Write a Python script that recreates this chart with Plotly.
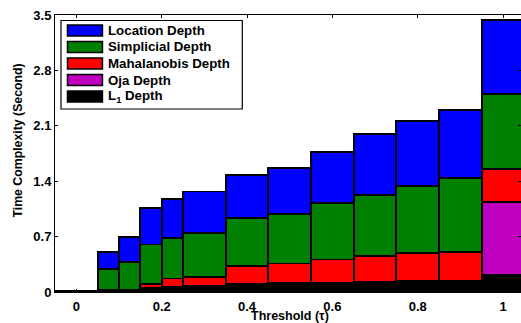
import plotly.graph_objects as go

# ---- data ----
bin_centers = [0.0, 0.075, 0.125, 0.175, 0.225, 0.3, 0.4, 0.5, 0.6, 0.7, 0.8, 0.9, 1.0]
bin_widths = [0.1, 0.05, 0.05, 0.05, 0.05, 0.1, 0.1, 0.1, 0.1, 0.1, 0.1, 0.1, 0.1]

l1_depth = [0.02, 0.03, 0.03, 0.05, 0.06, 0.08, 0.10, 0.11, 0.12, 0.13, 0.14, 0.14, 0.22]
oja_depth = [0, 0, 0, 0, 0, 0, 0, 0, 0, 0, 0, 0, 0.92]
mahalanobis_depth = [0, 0, 0, 0.05, 0.11, 0.11, 0.23, 0.25, 0.29, 0.32, 0.35, 0.37, 0.41]
simplicial_depth = [0, 0.26, 0.35, 0.50, 0.51, 0.56, 0.61, 0.63, 0.71, 0.78, 0.85, 0.93, 0.95]
location_depth = [0, 0.22, 0.32, 0.46, 0.50, 0.52, 0.54, 0.58, 0.65, 0.77, 0.82, 0.86, 0.94]

series_names = ["Location Depth", "Simplicial Depth", "Mahalanobis Depth", "Oja Depth", "L<sub>1</sub> Depth"]
series_colors = ["#0000FF", "#007F00", "#FF0000", "#BF00BF", "#000000"]

y_ticks = [0, 0.7, 1.4, 2.1, 2.8, 3.5]
y_tick_labels = ["0", "0.7", "1.4", "2.1", "2.8", "3.5"]
x_ticks = [0, 0.2, 0.4, 0.6, 0.8, 1.0]
x_tick_labels = ["0", "0.2", "0.4", "0.6", "0.8", "1"]

FONT = "Liberation Sans, Arial, sans-serif"

fig = go.Figure()
stack_order = [  # bottom to top
    (l1_depth, series_names[4], series_colors[4]),
    (oja_depth, series_names[3], series_colors[3]),
    (mahalanobis_depth, series_names[2], series_colors[2]),
    (simplicial_depth, series_names[1], series_colors[1]),
    (location_depth, series_names[0], series_colors[0]),
]
for vals, name, col in stack_order:
    fig.add_trace(go.Bar(
        x=bin_centers, y=vals, width=bin_widths, name=name,
        marker=dict(color=col, line=dict(color="black", width=1.8)),
        showlegend=False,
    ))

# ---- layout geometry (page pixels; body margin removed) ----
W, H = 521, 323
ml, mr, mt = 54.5, 0, 15
mb = H - 292
pw, ph = W - ml - mr, H - mt - mb
UNITS_PER_PX = 1.092 / 466.5
x_right = -0.05 + pw * UNITS_PER_PX

def px(x):
    return (x - ml) / pw

def py(y):
    return 1 - (y - mt) / ph

shapes = []
annotations = []
# legend box
shapes.append(dict(type="rect", xref="paper", yref="paper",
                   x0=px(60.5), x1=px(242), y0=py(109), y1=py(20.5),
                   line=dict(color="black", width=1.2), fillcolor="white", layer="above"))
centers_y = [30.5, 47, 63.5, 80, 96.5]
for i, (name, col) in enumerate(zip(series_names, series_colors)):
    cy = centers_y[i]
    shapes.append(dict(type="rect", xref="paper", yref="paper",
                       x0=px(67), x1=px(102), y0=py(cy + 5.5), y1=py(cy - 5.5),
                       line=dict(color="black", width=1.5), fillcolor=col, layer="above"))
    annotations.append(dict(text=name, xref="paper", yref="paper",
                            x=px(105.5), y=py(cy), xanchor="left", yanchor="middle",
                            showarrow=False,
                            font=dict(family=FONT, size=13.3, color="black", weight="bold")))

# axis titles
annotations.append(dict(text="Time Complexity (Second)", xref="paper", yref="paper",
                        x=px(17), y=py(141), textangle=-90, showarrow=False,
                        xanchor="center", yanchor="middle",
                        font=dict(family=FONT, size=12.3, color="black", weight="bold")))
annotations.append(dict(text="Threshold (τ)", xref="paper", yref="paper",
                        x=px(290), y=py(316), showarrow=False,
                        xanchor="center", yanchor="middle",
                        font=dict(family=FONT, size=12.5, color="black", weight="bold")))

fig.update_layout(
    width=W, height=H,
    margin=dict(l=ml, r=mr, t=mt, b=mb, pad=0),
    barmode="stack",
    plot_bgcolor="white", paper_bgcolor="white",
    showlegend=False,
    shapes=shapes, annotations=annotations,
    font=dict(family=FONT, color="black"),
)
fig.update_xaxes(
    range=[-0.05, x_right], tickvals=x_ticks, ticktext=x_tick_labels,
    ticks="inside", ticklen=3, tickcolor="black", tickwidth=1,
    showline=True, linecolor="black", linewidth=1, mirror="ticks",
    showgrid=False, zeroline=False, ticklabelstandoff=2,
    tickfont=dict(family=FONT, size=13, color="black", weight="bold"),
)
fig.update_yaxes(
    range=[0, 3.5], tickvals=y_ticks, ticktext=y_tick_labels,
    ticks="inside", ticklen=3, tickcolor="black", tickwidth=1,
    showline=True, linecolor="black", linewidth=1, mirror="ticks",
    showgrid=False, zeroline=False,
    tickfont=dict(family=FONT, size=13, color="black", weight="bold"),
)

fig.write_html(
    "out.html",
    config={"displayModeBar": False},
    post_script="document.body.style.margin='0';document.body.style.overflow='hidden';",
)
